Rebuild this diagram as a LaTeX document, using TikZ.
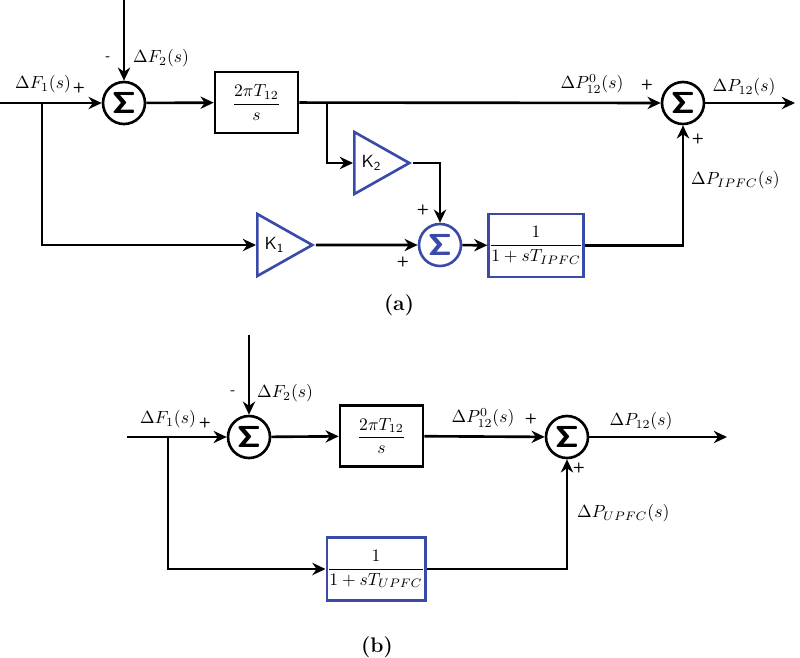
\documentclass[tikz,border=0pt]{standalone}
\usepackage{amsmath}
\usepackage{tikz}
\usetikzlibrary{arrows.meta, positioning, shapes.geometric}

\newcommand{\sumsym}{{\boldmath$\mathsf{\Sigma}$}}

\begin{document}
\begin{tikzpicture}[
    x=0.02cm, y=-0.02cm,
    >={Stealth[length=7.5pt, width=7pt]},
    font=\normalsize,
    wire/.style={line width=1.5pt},
    sig/.style={wire, ->},
    sumnode/.style={draw, circle, line width=1.5pt, minimum size=0.84cm,
                    inner sep=0pt, font=\LARGE},
    bluesum/.style={sumnode, draw=ctrlBlue, text=ctrlBlue},
    blk/.style={draw, line width=1.5pt, minimum width=1.66cm,
                minimum height=1.22cm, inner sep=1pt},
    blueblk/.style={blk, draw=ctrlBlue, minimum width=1.86cm,
                    minimum height=1.26cm, inner xsep=0.3pt},
    gainnode/.style={draw=ctrlBlue, line width=1.5pt, isosceles triangle,
                     isosceles triangle stretches, minimum width=1.24cm,
                     minimum height=1.1cm, inner sep=0pt, font=\sffamily},
    sgn/.style={font=\footnotesize\sffamily\bfseries},
    caption/.style={font=\large\bfseries},
]

\definecolor{ctrlBlue}{RGB}{58,74,168}   % blue blocks

\useasboundingbox (0,0) rectangle (800,657);

% ============================================================
% (a) BLOCKS
% ============================================================
\coordinate (a-in)  at (0, 103);
\coordinate (a-top) at (124, 0);
\coordinate (a-out) at (795, 103);
\coordinate (a-br1) at (42, 103);
\coordinate (a-br2) at (327, 103);

\node[sumnode] (a-s1) at (124, 103) {\sumsym};
\node[blk]     (a-g)  at (256.5, 102.5) {$\dfrac{2\pi T_{12}}{s}$};
\node[sumnode] (a-s2) at (683, 103) {\sumsym};

\node[gainnode, anchor=west] (a-k2) at (353, 163) {K$_{\mathsf{2}}$};
\node[gainnode, anchor=west] (a-k1) at (256, 245) {K$_{\mathsf{1}}$};
\node[bluesum] (a-s3) at (440, 245) {\sumsym};
\node[blueblk] (a-h)  at (536, 245.5) {$\dfrac{1}{1+sT_{IPFC}}$};

% ============================================================
% (a) CONNECTORS
% ============================================================
\draw[sig] (a-in) -- (a-s1);
\draw[sig] (a-top) -- (a-s1);
\draw[sig] (a-s1) -- (a-g);
\draw[sig] (a-g) -- (a-s2);
\draw[sig] (a-s2) -- (a-out);
\draw[sig] (a-br1) |- (a-k1.west);
\draw[sig] (a-br2) |- (a-k2.west);
\draw[sig] (a-k2.east) -| (a-s3);
\draw[sig] (a-k1.east) -- (a-s3);
\draw[sig] (a-s3) -- (a-h);
\draw[sig] (a-h) -| (a-s2);

% ============================================================
% (a) LABELS
% ============================================================
\node[sgn] (a-m1) at (108, 59) {-};
\node[anchor=west] (a-lf2) at (127, 58) {$\Delta F_2(s)$};
\node (a-lf1) at (43, 84) {$\Delta F_1(s)$};
\node[sgn] (a-p1) at (79, 88) {+};
\node (a-lp0) at (592, 84) {$\Delta P^0_{12}(s)$};
\node[sgn] (a-p2) at (647, 85) {+};
\node (a-lp12) at (744, 87) {$\Delta P_{12}(s)$};
\node[sgn] (a-p3) at (698, 139) {+};
\node[anchor=west] (a-lpi) at (685, 180) {$\Delta P_{IPFC}(s)$};
\node[sgn] (a-p4) at (423, 210) {+};
\node[sgn] (a-p5) at (403, 262) {+};
\node[caption] (a-cap) at (399, 305) {(a)};

% ============================================================
% (b) BLOCKS
% ============================================================
\coordinate (b-in)  at (127, 437);
\coordinate (b-top) at (249, 335);
\coordinate (b-out) at (727, 437);
\coordinate (b-br)  at (168, 437);

\node[sumnode] (b-s1) at (249, 437) {\sumsym};
\node[blk]     (b-g)  at (381.5, 436) {$\dfrac{2\pi T_{12}}{s}$};
\node[sumnode] (b-s2) at (567, 437) {\sumsym};
\node[blueblk] (b-h)  at (376, 569) {$\dfrac{1}{1+sT_{UPFC}}$};

% ============================================================
% (b) CONNECTORS
% ============================================================
\draw[sig] (b-in) -- (b-s1);
\draw[sig] (b-top) -- (b-s1);
\draw[sig] (b-s1) -- (b-g);
\draw[sig] (b-g) -- (b-s2);
\draw[sig] (b-s2) -- (b-out);
\draw[sig] (b-br) |- (b-h);
\draw[sig] (b-h) -| (b-s2);

% ============================================================
% (b) LABELS
% ============================================================
\node[sgn] (b-m1) at (233, 393) {-};
\node[anchor=west] (b-lf2) at (251, 393) {$\Delta F_2(s)$};
\node (b-lf1) at (168, 419) {$\Delta F_1(s)$};
\node[sgn] (b-p1) at (205, 423) {+};
\node (b-lp0) at (483, 418) {$\Delta P^0_{12}(s)$};
\node[sgn] (b-p2) at (531, 419) {+};
\node (b-lp12) at (641, 421) {$\Delta P_{12}(s)$};
\node[sgn] (b-p3) at (579, 468) {+};
\node[anchor=west] (b-lpu) at (571, 513) {$\Delta P_{UPFC}(s)$};
\node[caption] (b-cap) at (377, 647) {(b)};

\end{tikzpicture}
\end{document}
